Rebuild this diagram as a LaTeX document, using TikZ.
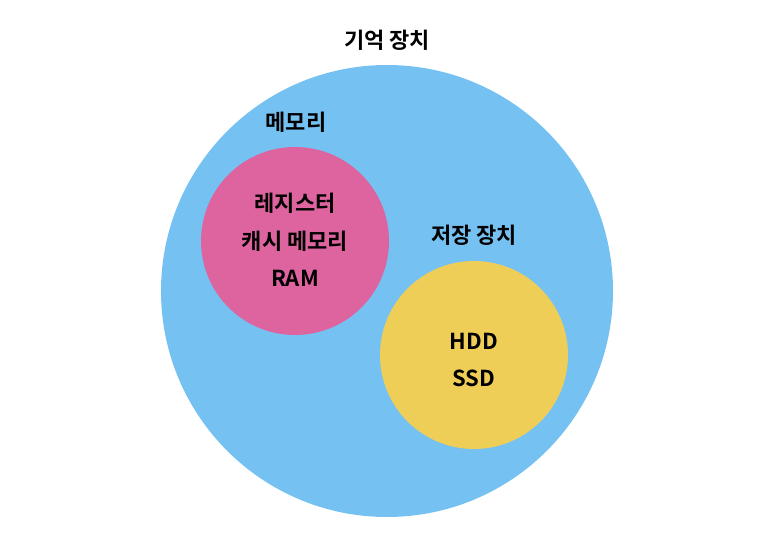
\documentclass[tikz,border=0pt]{standalone}
\usepackage{fontspec}
\newfontfamily\krbold{Noto Sans CJK KR Bold}
\definecolor{memblue}{HTML}{75C1F2}
\definecolor{mempink}{HTML}{DD649E}
\definecolor{memyellow}{HTML}{EFCE57}
\tikzset{
  lbl/.style={font=\krbold\fontsize{16.5}{28.2}\selectfont, align=center, inner sep=0pt}
}

\begin{document}
\begin{tikzpicture}[x=0.75pt, y=-0.75pt]
	%%%%% START %%%%%
	\useasboundingbox (0, 0) rectangle (772, 545);
	
	\fill[memblue] (387, 291) circle (226);
	\fill[mempink] (295, 241) circle (94);
	\fill[memyellow] (474, 355) circle (94);
	
	\node[lbl] (storage) at (387, 40) {기억 장치};
	\node[lbl] (memory) at (296, 122) {메모리};
	\node[lbl] (disk) at (474, 235) {저장 장치};
	
	\node[lbl] (memlist) at (295, 240) {레지스터\\캐시 메모리\\RAM};
	\node[lbl] (disklist) at (474, 360) {HDD\\SSD};
	%%%%% END %%%%%
\end{tikzpicture}
\end{document}
